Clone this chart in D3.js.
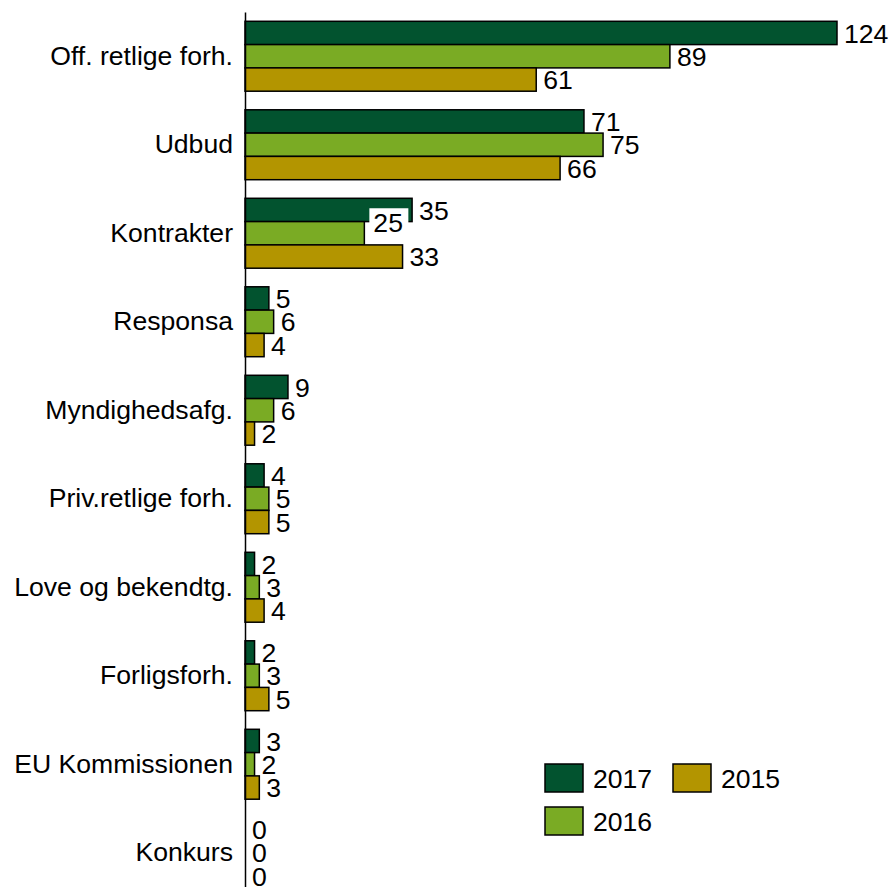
<!DOCTYPE html>
<html>
<head>
<meta charset="utf-8">
<script src="https://cdn.jsdelivr.net/npm/d3@7"></script>
<style>
  body { margin: 0; background: #fff; }
  text { font-family: "Liberation Sans", Arial, sans-serif; }
</style>
</head>
<body>
<div id="chart"></div>
<script>
// data
var categories = ["Off. retlige forh.", "Udbud", "Kontrakter", "Responsa", "Myndighedsafg.",
    "Priv.retlige forh.", "Love og bekendtg.", "Forligsforh.", "EU Kommissionen", "Konkurs"];
var years = ["2017", "2016", "2015"];
var values2017 = [124, 71, 35, 5, 9, 4, 2, 2, 3, 0];
var values2016 = [89, 75, 25, 6, 6, 5, 3, 3, 2, 0];
var values2015 = [61, 66, 33, 4, 2, 5, 4, 5, 3, 0];
var colors = ["#02532f", "#7aab24", "#b39500"];

var width = 892, height = 887;
var fontSize = "26.6px";
var series = [values2017, values2016, values2015];

var svg = d3.select("#chart").append("svg")
    .attr("width", width)
    .attr("height", height);

var x = d3.scaleLinear().domain([0, 124]).range([245, 837]);
var y = d3.scaleBand().domain(categories).range([12, 897]).paddingInner(0.21).paddingOuter(0.105);
var ySub = d3.scaleBand().domain(years).range([0, y.bandwidth()]);

// flatten for drawing
var rows = [];
categories.forEach(function (c, i) {
    years.forEach(function (yr, j) {
        rows.push({ category: c, year: yr, value: series[j][i], color: colors[j] });
    });
});

svg.append("g")
    .selectAll("rect")
    .data(rows)
    .enter()
    .append("rect")
    .attr("x", x(0))
    .attr("y", function (d) { return y(d.category) + ySub(d.year); })
    .attr("width", function (d) { return x(d.value) - x(0); })
    .attr("height", ySub.bandwidth())
    .attr("fill", function (d) { return d.color; })
    .attr("stroke", "#000")
    .attr("stroke-width", 1.5);

// value labels
var labels = svg.append("g")
    .selectAll("g")
    .data(rows)
    .enter()
    .append("g")
    .attr("transform", function (d) {
        var dy = (d.category == "Kontrakter" && d.year == "2016") ? -11 : 0; // label nudged up in the original
        var dx = (d.category == "Kontrakter" && d.year == "2016") ? 9 : 7;
        return "translate(" + (x(d.value) + dx) + "," + (y(d.category) + ySub(d.year) + ySub.bandwidth() / 2 + dy) + ")";
    });

labels.filter(function (d) { return d.category == "Kontrakter" && d.year == "2016"; })
    .append("rect")
    .attr("x", -4).attr("y", -14).attr("width", 39).attr("height", 27)
    .attr("fill", "#fff");

labels.append("text")
    .attr("dy", "0.36em")
    .attr("font-size", fontSize)
    .text(function (d) { return d.value; });

// axis
var axis = svg.append("g")
    .attr("transform", "translate(" + x(0) + ",0)")
    .call(d3.axisLeft(y).tickSize(0).tickPadding(12));
axis.select(".domain").attr("stroke", "#000").attr("stroke-width", 1.5);
axis.selectAll("text")
    .attr("font-size", fontSize)
    .attr("fill", "#000")
    .style("font-family", "'Liberation Sans', Arial, sans-serif");

// legend
var legendPos = [[545, 764], [545, 807], [673, 764]];
var legend = svg.append("g")
    .selectAll("g")
    .data(years)
    .enter()
    .append("g")
    .attr("transform", function (d, i) { return "translate(" + legendPos[i] + ")"; });

legend.append("rect")
    .attr("width", 38)
    .attr("height", 28)
    .attr("fill", function (d, i) { return colors[i]; })
    .attr("stroke", "#000")
    .attr("stroke-width", 1.5);

legend.append("text")
    .attr("x", 48)
    .attr("y", 14)
    .attr("dy", "0.36em")
    .attr("font-size", fontSize)
    .text(function (d) { return d; });
</script>
</body>
</html>
